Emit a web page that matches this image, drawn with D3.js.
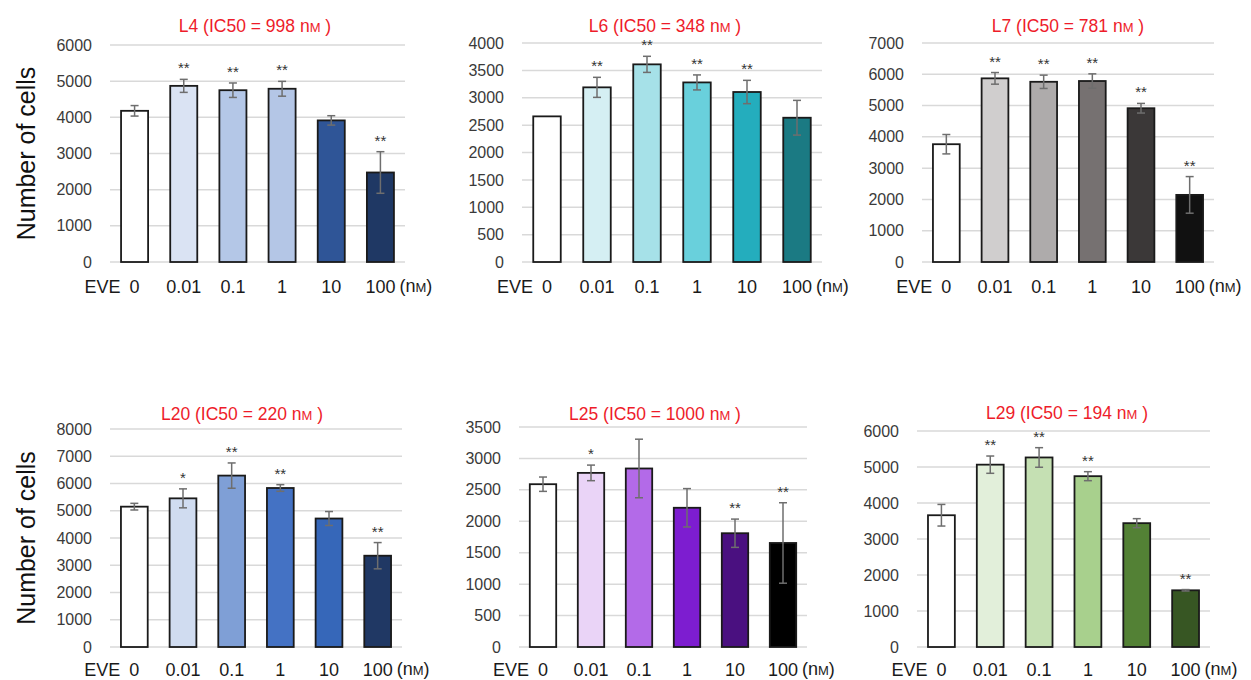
<!DOCTYPE html>
<html>
<head>
<meta charset="utf-8">
<script src="https://cdn.jsdelivr.net/npm/d3@7"></script>
<style>
  body { margin: 0; background: #fff; }
  svg text { font-family: "Liberation Sans", Arial, sans-serif; }
</style>
</head>
<body>
<svg class="svg-main" width="1251" height="680"></svg>
<script>
// data
const doses = ["0", "0.01", "0.1", "1", "10", "100"];
const lines = ["L4", "L6", "L7", "L20", "L25", "L29"];
const ic50 = [998, 348, 781, 220, 1000, 194];

const meanL4 = [4180, 4870, 4750, 4790, 3915, 2475];
const sdL4 = [145, 180, 200, 205, 130, 575];
const sigL4 = ["", "**", "**", "**", "", "**"];

const meanL6 = [2660, 3190, 3610, 3280, 3105, 2635];
const sdL6 = [0, 183, 147, 137, 213, 317];
const sigL6 = ["", "**", "**", "**", "**", ""];

const meanL7 = [3765, 5870, 5760, 5785, 4915, 2145];
const sdL7 = [310, 186, 213, 229, 154, 585];
const sigL7 = ["", "**", "**", "**", "**", "**"];

const meanL20 = [5150, 5455, 6290, 5835, 4715, 3350];
const sdL20 = [122, 348, 464, 122, 256, 482];
const sigL20 = ["", "*", "**", "**", "", "**"];

const meanL25 = [2590, 2770, 2840, 2215, 1810, 1655];
const sdL25 = [114, 124, 466, 305, 225, 640];
const sigL25 = ["", "*", "", "", "**", "**"];

const meanL29 = [3660, 5065, 5265, 4745, 3440, 1575];
const sdL29 = [300, 240, 272, 125, 125, 20];
const sigL29 = ["", "**", "**", "**", "", "**"];

const yMax = [6000, 4000, 7000, 8000, 3500, 6000];
const yStep = [1000, 500, 1000, 1000, 500, 1000];

const means = [meanL4, meanL6, meanL7, meanL20, meanL25, meanL29];
const sds = [sdL4, sdL6, sdL7, sdL20, sdL25, sdL29];
const sigs = [sigL4, sigL6, sigL7, sigL20, sigL25, sigL29];

// colours per panel
const palettes = [
  ["#ffffff", "#dae3f3", "#b4c7e7", "#b4c6e6", "#2f5597", "#1f3864"],
  ["#ffffff", "#d5eff3", "#a6e1e8", "#69d0dc", "#24adbd", "#1b7a83"],
  ["#ffffff", "#d0cece", "#aeabab", "#767171", "#3b3838", "#111111"],
  ["#ffffff", "#d0dcf0", "#7f9fd6", "#4472c4", "#3667b9", "#203864"],
  ["#ffffff", "#ead4f7", "#b36ae8", "#7d1dd0", "#4a1080", "#000000"],
  ["#ffffff", "#e2efda", "#c5e0b3", "#a8d08d", "#538135", "#375623"]
];

// panel frames (layout only)
const frames = [
  {x0: 110, x1: 405, y0: 45, y1: 262, tx: 255, ty: 32},
  {x0: 522, x1: 822, y0: 43, y1: 262, tx: 665, ty: 32},
  {x0: 922, x1: 1214, y0: 43, y1: 262, tx: 1068, ty: 32},
  {x0: 110, x1: 402, y0: 429, y1: 647, tx: 242, ty: 420},
  {x0: 519, x1: 807, y0: 427, y1: 647, tx: 655, ty: 420},
  {x0: 917, x1: 1210, y0: 431, y1: 647, tx: 1067, ty: 419}
];

const svg = d3.select('.svg-main');

lines.forEach((name, i) => drawPanel(name, i));

function drawPanel(name, i) {
  const f = frames[i];
  const g = svg.append("g");

  const x = d3.scaleBand()
    .domain(doses)
    .range([f.x0, f.x1])
    .paddingInner(0.45)
    .paddingOuter(0.225);

  const y = d3.scaleLinear()
    .domain([0, yMax[i]])
    .range([f.y1, f.y0]);

  const ticks = d3.range(0, yMax[i] + 1, yStep[i]);

  // gridlines
  g.append("g")
    .selectAll("line")
    .data(ticks)
    .enter().append("line")
      .attr("x1", f.x0)
      .attr("x2", f.x1)
      .attr("y1", d => y(d))
      .attr("y2", d => y(d))
      .attr("stroke", "#d9d9d9")
      .attr("stroke-width", 1.5);

  // y axis labels
  const yAxis = d3.axisLeft(y)
    .tickValues(ticks)
    .tickFormat(d3.format("d"))
    .tickSize(0)
    .tickPadding(18);
  const ya = g.append("g")
    .attr("transform", `translate(${f.x0},0)`)
    .call(yAxis);
  ya.select(".domain").remove();
  ya.selectAll("text")
    .attr("font-size", 16)
    .attr("fill", "#3a3a3a")
    .attr("font-family", "Liberation Sans, Arial, sans-serif");

  const rows = doses.map((d, j) => ({dose: d, m: means[i][j], sd: sds[i][j], sig: sigs[i][j], c: palettes[i][j]}));

  // bars
  g.append("g")
    .selectAll("rect")
    .data(rows)
    .enter().append("rect")
      .attr("x", d => x(d.dose))
      .attr("width", x.bandwidth())
      .attr("y", d => y(d.m))
      .attr("height", d => y(0) - y(d.m))
      .attr("fill", d => d.c)
      .attr("stroke", "#1a1a1a")
      .attr("stroke-width", 1.8);

  // error bars
  const err = g.append("g")
    .attr("stroke", "#6e6e6e")
    .attr("stroke-width", 1.5)
    .selectAll("g")
    .data(rows.filter(d => d.sd > 0))
    .enter().append("g");
  const cx = d => x(d.dose) + x.bandwidth() / 2;
  err.append("line")
    .attr("x1", cx).attr("x2", cx)
    .attr("y1", d => y(d.m + d.sd))
    .attr("y2", d => y(d.m - d.sd));
  err.append("line")
    .attr("x1", d => cx(d) - 4).attr("x2", d => cx(d) + 4)
    .attr("y1", d => y(d.m + d.sd)).attr("y2", d => y(d.m + d.sd));
  err.append("line")
    .attr("x1", d => cx(d) - 4).attr("x2", d => cx(d) + 4)
    .attr("y1", d => y(d.m - d.sd)).attr("y2", d => y(d.m - d.sd));

  // significance marks
  g.append("g")
    .selectAll("text")
    .data(rows.filter(d => d.sig))
    .enter().append("text")
      .attr("x", cx)
      .attr("y", d => y(d.m + d.sd) - 6)
      .attr("text-anchor", "middle")
      .attr("font-size", 15)
      .attr("fill", "#333")
      .text(d => d.sig);

  // x labels
  const xl = Math.min(f.y1 + 31, 676);
  g.append("g")
    .selectAll("text")
    .data(doses)
    .enter().append("text")
      .attr("x", d => x(d) + x.bandwidth() / 2)
      .attr("y", xl)
      .attr("text-anchor", "middle")
      .attr("font-size", 18)
      .attr("fill", "#1a1a1a")
      .text(d => d);

  g.append("text")
    .attr("x", x(doses[0]) + x.bandwidth() / 2 - 14)
    .attr("y", xl)
    .attr("text-anchor", "end")
    .attr("font-size", 18)
    .attr("fill", "#1a1a1a")
    .text("EVE");

  const unit = g.append("text")
    .attr("x", x(doses[5]) + x.bandwidth() / 2 + 19)
    .attr("y", xl - 1)
    .attr("font-size", 18)
    .attr("fill", "#1a1a1a");
  unit.append("tspan").text("(n");
  unit.append("tspan").attr("font-size", 13).text("M");
  unit.append("tspan").text(")");

  // title
  const title = g.append("text")
    .attr("x", f.tx)
    .attr("y", f.ty)
    .attr("text-anchor", "middle")
    .attr("font-size", 17.5)
    .attr("fill", "#ee1c2a");
  title.append("tspan").text(`${name} (IC50  =  ${ic50[i]} n`);
  title.append("tspan").attr("font-size", 13).text("M");
  title.append("tspan").text(" )");

  // y title on left column
  if (i % 3 === 0) {
    g.append("text")
      .attr("transform", `translate(35,${(f.y0 + f.y1) / 2}) rotate(-90)`)
      .attr("text-anchor", "middle")
      .attr("font-size", 25)
      .attr("fill", "#111")
      .text("Number of cells");
  }
}
</script>
</body>
</html>
